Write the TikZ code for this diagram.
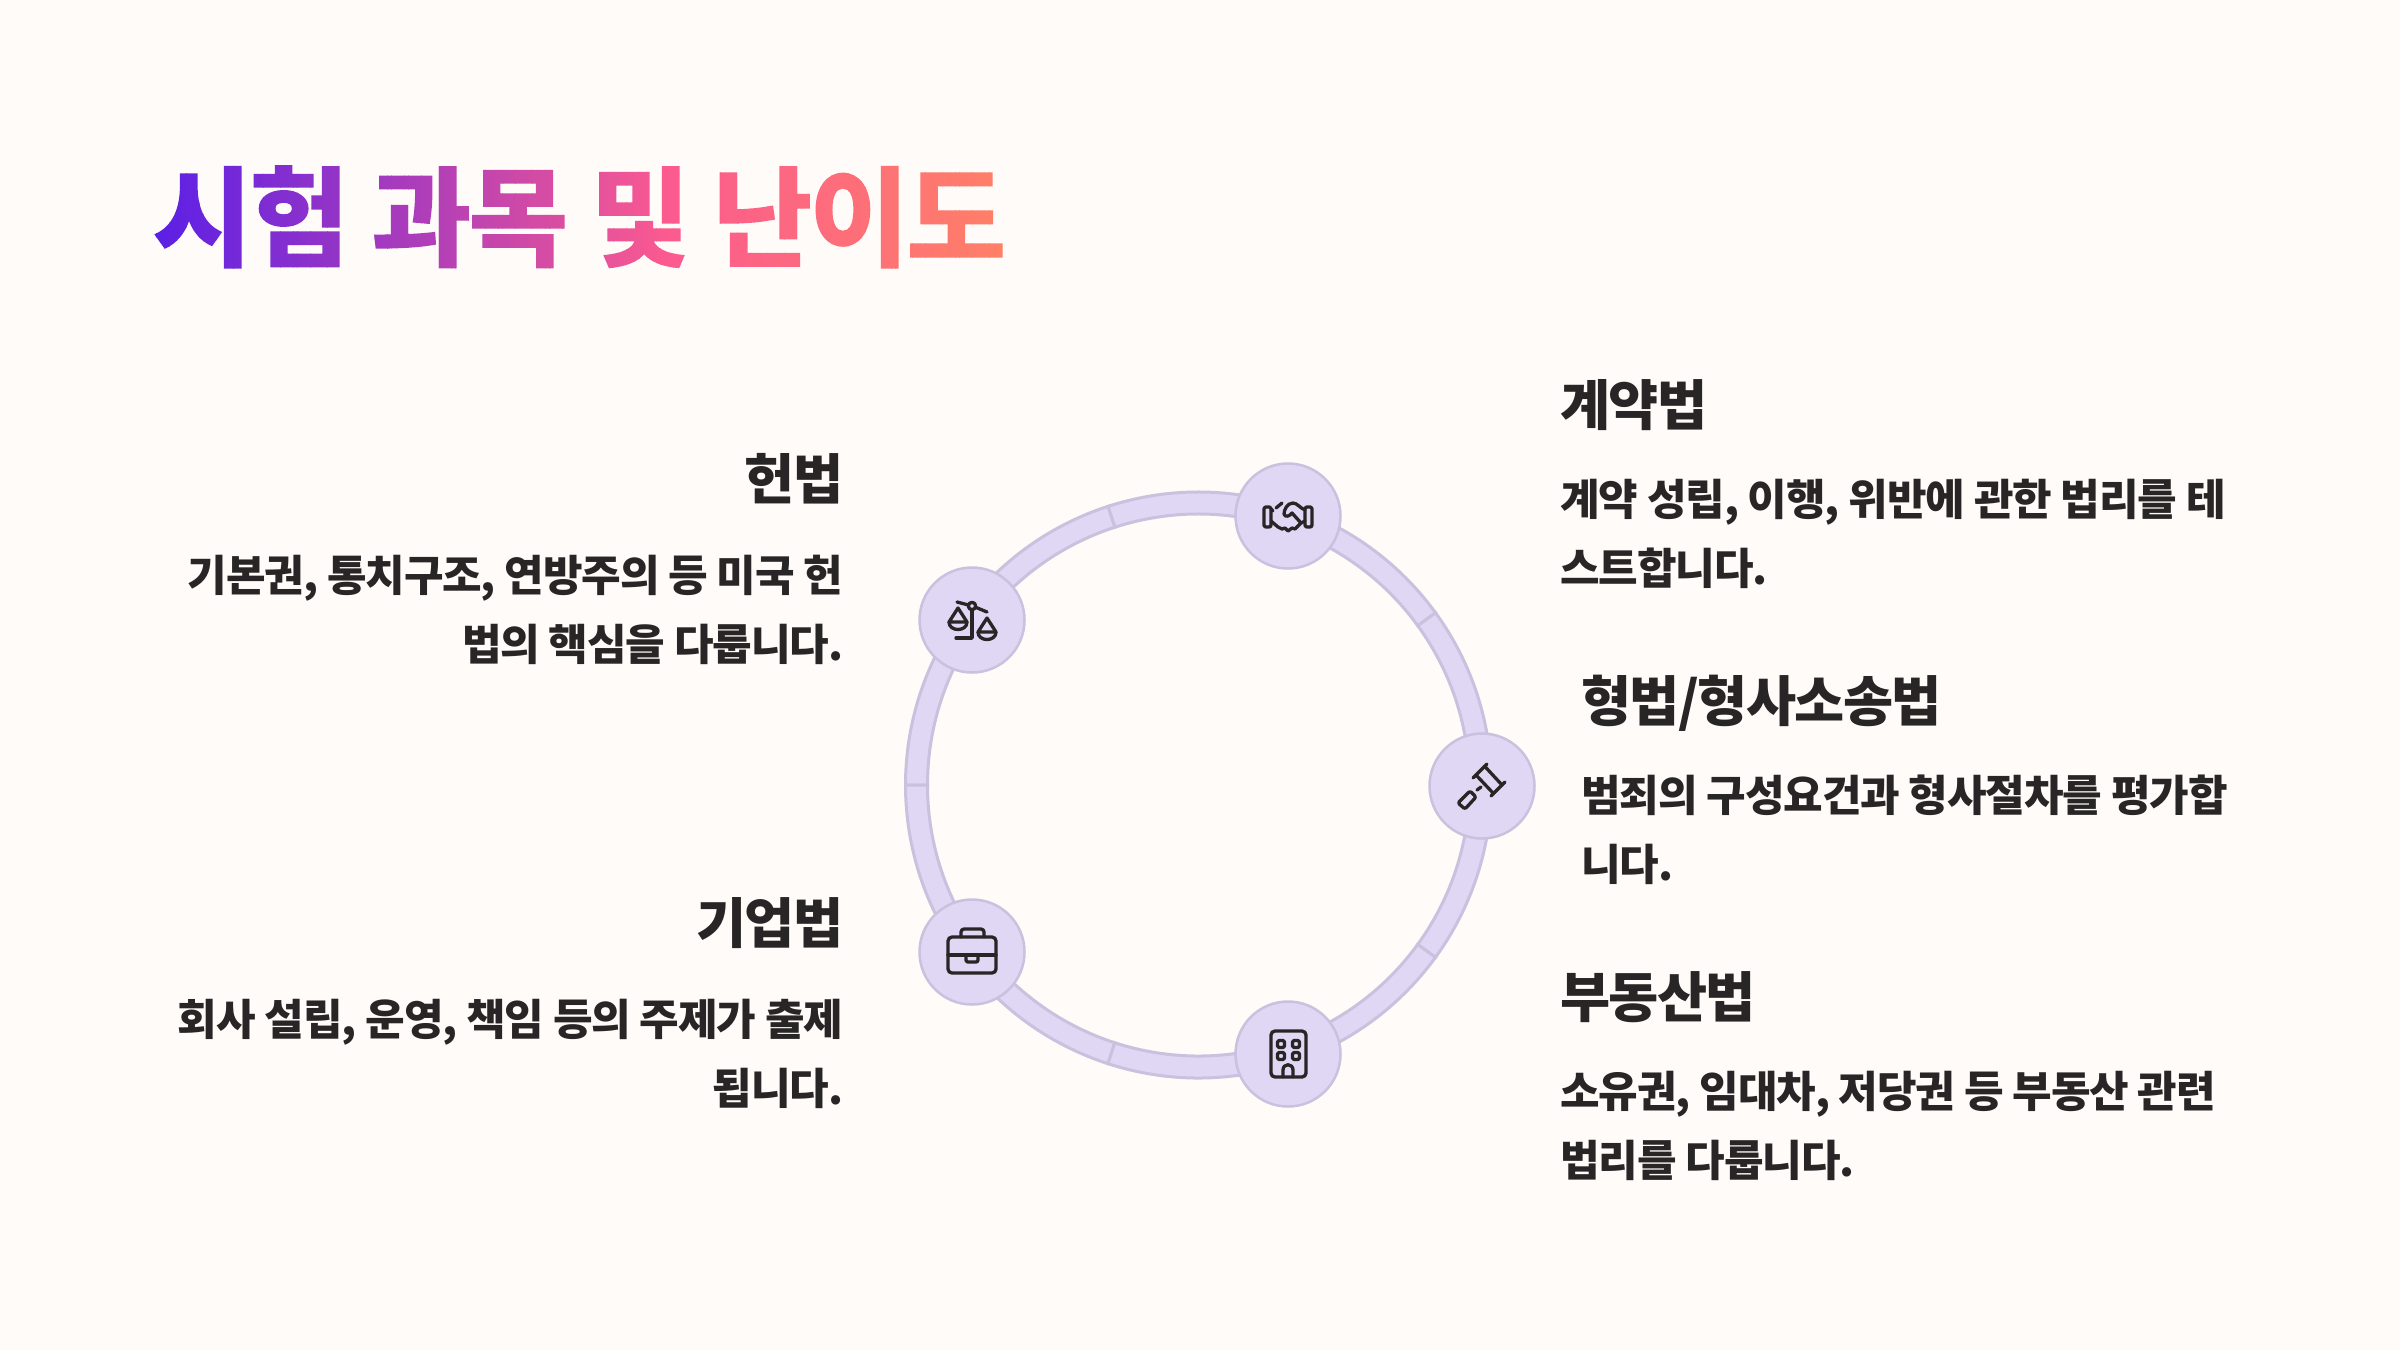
\documentclass[tikz,border=0pt]{standalone}
\usepackage{fontspec}
\newfontfamily\kr{Noto Sans CJK KR}
\definecolor{bgc}{HTML}{FFFBF8}
\definecolor{ringfill}{HTML}{DFD7F4}
\definecolor{ringline}{HTML}{C9C2DE}
\definecolor{ink}{HTML}{272525}
\definecolor{gstart}{HTML}{5B1FE6}
\definecolor{gmid}{HTML}{FB5A8F}
\definecolor{gend}{HTML}{FF8066}
\newsavebox\titlebox
\newlength\stripw
\newcommand\titlefont{\kr\bfseries\fontsize{109}{120}\selectfont\addfontfeature{LetterSpace=-3}}
\newcommand\headfont{\kr\bfseries\fontsize{54.5}{60}\selectfont\addfontfeature{LetterSpace=-3}}
\newcommand\bodyfont{\kr\bfseries\fontsize{43}{68.5}\selectfont\addfontfeature{LetterSpace=-2.5}}
\newcommand\gradtitle[1]{%
  \sbox\titlebox{\titlefont #1}%
  \rlap{\special{pdf:literal direct 7 Tr}\usebox\titlebox\special{pdf:literal direct 0 Tr}}%
  \setlength\stripw{\wd\titlebox}\divide\stripw by 200
  \hbox{\foreach \i in {0,...,199}{%
    \pgfmathsetmacro\pp{\i/2}%
    \pgfmathparse{\pp<60?1:0}%
    \ifnum\pgfmathresult=1
      \pgfmathsetmacro\mx{\pp/0.6}\color{gmid!\mx!gstart}%
    \else
      \pgfmathsetmacro\mx{(\pp-60)/0.4}\color{gend!\mx!gmid}%
    \fi
    \rule[-30pt]{\dimexpr\stripw+0.4pt\relax}{160pt}\kern-0.4pt}}%
}
\tikzset{
  x=1pt,y=1pt,
  hub/.style={circle,fill=ringfill,draw=ringline,line width=2.5pt,minimum size=105pt,inner sep=0pt},
  seg/.style={fill=ringfill,draw=ringline,line width=3pt,line join=miter},
  iconline/.style={draw=ink,line width=3.3pt,line cap=round,line join=round},
  head/.style={inner sep=0pt,text=ink,font=\headfont},
  bodyr/.style={inner sep=0pt,text=ink,font=\bodyfont,align=left,anchor=base west},
  bodyl/.style={inner sep=0pt,text=ink,font=\bodyfont,align=right,anchor=base east},
}
\newcommand\ringseg[1]{%
  \draw[seg] (#1:293) arc[start angle=#1,delta angle=72,radius=293]
     -- ({#1+72}:271) arc[start angle={#1+72},delta angle=-72,radius=271] -- cycle;}
\begin{document}
\begin{tikzpicture}
\useasboundingbox (0,0) rectangle (2400,-1350);
\fill[bgc] (0,0) rectangle (2400,-1350);
\coordinate (ringc) at (1198.5,-785);
\begin{scope}[shift={(ringc)}]
  \ringseg{36}\ringseg{108}\ringseg{180}\ringseg{252}\ringseg{324}
\end{scope}
\node[hub] (gavel) at (1482,-786) {};
\node[hub] (shake) at (1288,-516) {};
\node[hub] (scales) at (972,-620) {};
\node[hub] (brief) at (972,-952) {};
\node[hub] (bldg) at (1288,-1054) {};
% handshake
\begin{scope}[shift={(shake.center)},yscale=-1]
  \draw[iconline,rounded corners=2pt] (-24,-9) rectangle (-17,11);
  \draw[iconline,rounded corners=2pt] (17,-9) rectangle (24,11);
  \draw[iconline] (-17,5) -- (-10,11) -- (-6,13) -- (-3,12) -- (0,15) -- (4,12) -- (7,13) -- (13,7) -- (17,5);
  \draw[iconline] (-12,-8) -- (-6,-13);
  \draw[iconline] (-17,-7) -- (-15,-5);
  \draw[iconline] (13,7) -- (4,-3) .. controls (2,0) and (-3,2) .. (-4,-2) .. controls (-4,-6) and (-1,-13) .. (5,-13) .. controls (9,-13) and (12,-8) .. (17,-6);
\end{scope}
% scales
\begin{scope}[shift={(scales.center)},yscale=-1]
  \draw[iconline] (-15,-18) -- (-3.5,-15);
  \draw[iconline] (3.5,-12.8) -- (15,-8);
  \draw[iconline] (0,-14) circle[radius=3.7];
  \draw[iconline] (0,-10.5) -- (0,18) -- (-16,18);
  \draw[iconline] (-23,2) -- (-14,-12) -- (-5,2) -- cycle;
  \draw[iconline] (-23,2) .. controls (-23,12) and (-5,12) .. (-5,2);
  \draw[iconline] (6,12) -- (15,-2) -- (24,12) -- cycle;
  \draw[iconline] (6,12) .. controls (6,22) and (24,22) .. (24,12);
\end{scope}
% gavel
\begin{scope}[shift={(gavel.center)},yscale=-1]
  \draw[iconline] (-9,-8) -- (5,-22);
  \draw[iconline] (9,10) -- (23,-4);
  \draw[iconline] (-6,-11) -- (11,7);
  \draw[iconline] (2.7,-19.7) -- (20,-1);
  \draw[iconline] (-5,4) -- (-1,1);
  \draw[iconline,rounded corners=2pt] (-24,17) -- (-12,5) -- (-6,11) -- (-17,23) -- cycle;
\end{scope}
% building
\begin{scope}[shift={(bldg.center)},yscale=-1]
  \draw[iconline,rounded corners=4pt] (-17,-23) rectangle (18,23);
  \foreach \wx in {-7,8}{\foreach \wy in {-10,2}{
    \draw[iconline,rounded corners=1.5pt] (\wx-3.5,\wy-3.5) rectangle (\wx+3.5,\wy+3.5);}}
  \draw[iconline] (-5,23) -- (-5,16) .. controls (-5,9) and (5,9) .. (5,16) -- (5,23);
\end{scope}
% briefcase
\begin{scope}[shift={(brief.center)},yscale=-1]
  \draw[iconline,rounded corners=4pt] (-24,-15) rectangle (24,21);
  \draw[iconline,rounded corners=3pt] (-11,-15) -- (-11,-23) -- (12,-23) -- (12,-15);
  \draw[iconline] (-24,3) -- (24,3);
  \draw[iconline,rounded corners=2pt] (-6,3) -- (-6,10) -- (6,10) -- (6,3);
\end{scope}
% title
\node[inner sep=0pt,anchor=base west] (title) at (152,-258) {\gradtitle{시험 과목 및 난이도}};
% left
\node[head,anchor=base east] (h1) at (843.5,-499) {헌법};
\node[bodyl] (b1) at (843.5,-660) {기본권, 통치구조, 연방주의 등 미국 헌\\법의 핵심을 다룹니다.};
\node[head,anchor=base east] (h2) at (843.5,-943) {기업법};
\node[bodyl] (b2) at (843.5,-1104) {회사 설립, 운영, 책임 등의 주제가 출제\\됩니다.};
% right
\node[head,anchor=base west] (h3) at (1560,-425) {계약법};
\node[bodyr] (b3) at (1560,-584) {계약 성립, 이행, 위반에 관한 법리를 테\\스트합니다.};
\node[head,anchor=base west] (h4) at (1581,-721) {형법/형사소송법};
\node[bodyr] (b4) at (1581,-880) {범죄의 구성요건과 형사절차를 평가합\\니다.};
\node[head,anchor=base west] (h5) at (1560,-1017) {부동산법};
\node[bodyr] (b5) at (1560,-1176) {소유권, 임대차, 저당권 등 부동산 관련\\법리를 다룹니다.};
\end{tikzpicture}
\end{document}
